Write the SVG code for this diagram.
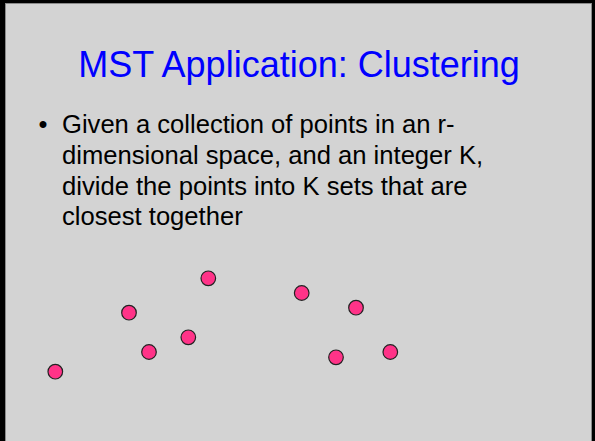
<svg xmlns="http://www.w3.org/2000/svg" width="595" height="441" viewBox="0 0 595 441">
<style>
.title{font-family:"Liberation Sans",Arial,sans-serif;font-size:36px;fill:#0000ff}
.body{font-family:"Liberation Sans",Arial,sans-serif;font-size:25.6px;fill:#000}
.pt{fill:#ff3388;stroke:#222;stroke-width:1.2}
</style>
<rect x="0" y="0" width="595" height="441" fill="#000"/>
<rect x="5.5" y="3.5" width="586" height="440" fill="#d3d3d3" stroke="#8a8a8a" stroke-width="1"/>
<g id="title"><text class="title" x="299" y="77" text-anchor="middle">MST Application: Clustering</text></g>
<g id="bullet">
<text class="body" x="38.5" y="132.5">•</text>
<text class="body" x="62" y="132.5">Given a collection of points in an r-</text>
<text class="body" x="62" y="163.5">dimensional space, and an integer K,</text>
<text class="body" x="62" y="194.5">divide the points into K sets that are</text>
<text class="body" x="62" y="225">closest together</text>
</g>
<g id="points">
<circle id="p1" class="pt" cx="208.3" cy="278.3" r="7.3"/>
<circle id="p2" class="pt" cx="129" cy="312.7" r="7.3"/>
<circle id="p3" class="pt" cx="188.3" cy="337.3" r="7.3"/>
<circle id="p4" class="pt" cx="149" cy="352" r="7.3"/>
<circle id="p5" class="pt" cx="55.3" cy="371.7" r="7.3"/>
<circle id="p6" class="pt" cx="301.7" cy="293" r="7.3"/>
<circle id="p7" class="pt" cx="356" cy="307.7" r="7.3"/>
<circle id="p8" class="pt" cx="336" cy="357.3" r="7.3"/>
<circle id="p9" class="pt" cx="390.3" cy="352" r="7.3"/>
</g>
<g id="connectors"/>
</svg>
